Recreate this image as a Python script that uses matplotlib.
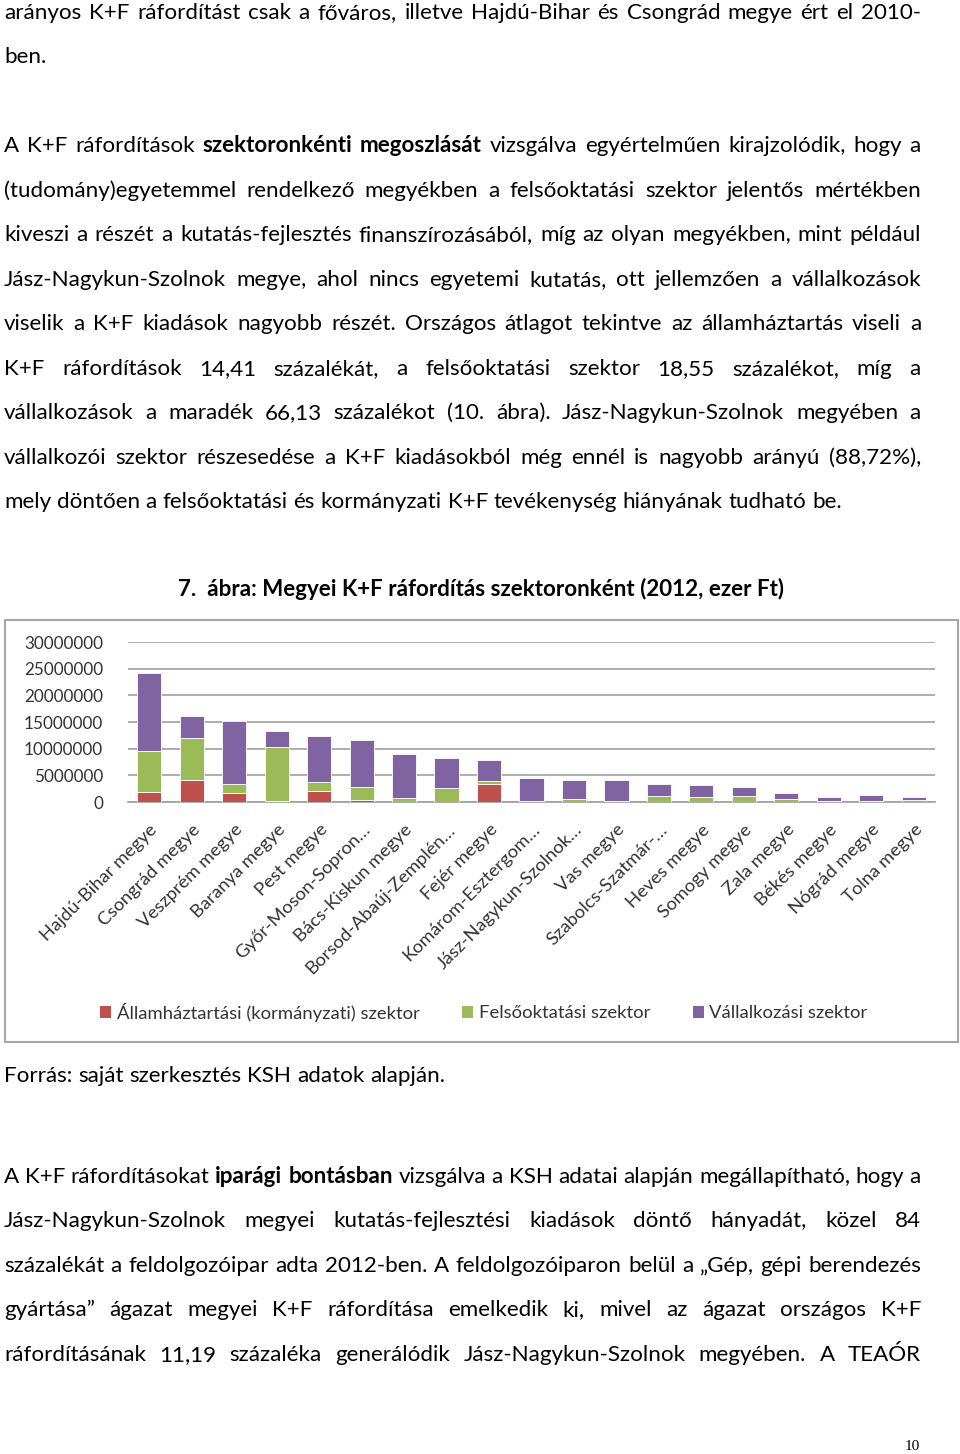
import matplotlib
matplotlib.use("Agg")
import matplotlib.pyplot as plt
from matplotlib.patches import Rectangle, Patch
import numpy as np

W, H = 960, 1454
BODY_FONT = "Lato"
X_LEFT, X_RIGHT = 4, 921

# page text, one entry per printed line: (y centre in px, text, justified)
# words wrapped in ** are bold
top_lines = [
    (11, "arányos K+F ráfordítást csak a főváros, illetve Hajdú-Bihar és Csongrád megye ért el 2010-", True),
    (55, "ben.", False),
    (144, "A K+F ráfordítások **szektoronkénti megoszlását** vizsgálva egyértelműen kirajzolódik, hogy a", True),
    (189, "(tudomány)egyetemmel rendelkező megyékben a felsőoktatási szektor jelentős mértékben", True),
    (233, "kiveszi a részét a kutatás-fejlesztés finanszírozásából, míg az olyan megyékben, mint például", True),
    (278, "Jász-Nagykun-Szolnok megye, ahol nincs egyetemi kutatás, ott jellemzően a vállalkozások", True),
    (322, "viselik a K+F kiadások nagyobb részét. Országos átlagot tekintve az államháztartás viseli a", True),
    (367, "K+F ráfordítások 14,41 százalékát, a felsőoktatási szektor 18,55 százalékot, míg a", True),
    (411, "vállalkozások a maradék 66,13 százalékot (10. ábra). Jász-Nagykun-Szolnok megyében a", True),
    (456, "vállalkozói szektor részesedése a K+F kiadásokból még ennél is nagyobb arányú (88,72%),", True),
    (500, "mely döntően a felsőoktatási és kormányzati K+F tevékenység hiányának tudható be.", False),
]
bottom_lines = [
    (1074, "Forrás: saját szerkesztés KSH adatok alapján.", False),
    (1175, "A K+F ráfordításokat **iparági bontásban** vizsgálva a KSH adatai alapján megállapítható, hogy a", True),
    (1219, "Jász-Nagykun-Szolnok megyei kutatás-fejlesztési kiadások döntő hányadát, közel 84", True),
    (1264, "százalékát a feldolgozóipar adta 2012-ben. A feldolgozóiparon belül a „Gép, gépi berendezés", True),
    (1308, "gyártása” ágazat megyei K+F ráfordítása emelkedik ki, mivel az ágazat országos K+F", True),
    (1353, "ráfordításának 11,19 százaléka generálódik Jász-Nagykun-Szolnok megyében. A TEAÓR", True),
]
chart_title = "7.  ábra: Megyei K+F ráfordítás szektoronként (2012, ezer Ft)"
page_number = "10"

# chart data (ezer Ft)
counties = ["Hajdú-Bihar megye", "Csongrád megye", "Veszprém megye", "Baranya megye",
            "Pest megye", "Győr-Moson-Sopron…", "Bács-Kiskun megye", "Borsod-Abaúj-Zemplén…",
            "Fejér megye", "Komárom-Esztergom…", "Jász-Nagykun-Szolnok…", "Vas megye",
            "Szabolcs-Szatmár-…", "Heves megye", "Somogy megye", "Zala megye",
            "Békés megye", "Nógrád megye", "Tolna megye"]
gov = [1870000, 4050000, 1750000, 100000, 2000000, 400000, 50000, 50000, 3400000, 20000,
       20000, 20000, 50000, 30000, 20000, 20000, 10000, 10000, 10000]
higher_ed = [7600000, 8000000, 1650000, 10200000, 1700000, 2500000, 650000, 2500000, 450000, 250000,
             500000, 250000, 1100000, 850000, 1050000, 550000, 100000, 100000, 300000]
business = [14770000, 4150000, 11700000, 3000000, 8700000, 8800000, 8300000, 5650000, 4000000, 4150000,
            3550000, 3800000, 2250000, 2300000, 1750000, 1150000, 900000, 1250000, 650000]
legend_labels = ["Államháztartási (kormányzati) szektor", "Felsőoktatási szektor", "Vállalkozási szektor"]
colors = ["#C0504D", "#9BBB59", "#8064A2"]

fig = plt.figure(figsize=(W / 100, H / 100), dpi=100)
renderer = fig.canvas.get_renderer()


def fx(px):
    return px / W


def fy(py):
    return 1 - py / H


def parse_words(line):
    words = []
    bold = False
    for tok in line.split():
        if tok.startswith("**"):
            bold = True
            tok = tok[2:]
        end_bold = tok.endswith("**")
        if end_bold:
            tok = tok[:-2]
        words.append((tok, bold))
        if end_bold:
            bold = False
    return words


def text_width(s, size, bold):
    t = fig.text(0, 0, s, fontsize=size, family=BODY_FONT,
                 fontweight="bold" if bold else "normal")
    w = t.get_window_extent(renderer).width
    t.remove()
    return w


# fit body size to the unjustified last line of the first paragraph (837 px wide)
ref_w = text_width(top_lines[-1][1], 10, False)
body_size = 10 * 837 / ref_w


def draw_line(y, line, justify):
    words = parse_words(line)
    widths = [text_width(w, body_size, b) for w, b in words]
    if justify and len(words) > 1:
        gap = (X_RIGHT - X_LEFT - sum(widths)) / (len(words) - 1)
    else:
        gap = text_width("a a", body_size, False) - 2 * text_width("a", body_size, False)
    x = X_LEFT
    for (w, b), wd in zip(words, widths):
        fig.text(fx(x), fy(y + 8), w, fontsize=body_size, family=BODY_FONT,
                 fontweight="bold" if b else "normal", va="baseline", ha="left", color="black")
        x += wd + gap


for y, line, just in top_lines + bottom_lines:
    draw_line(y, line, just)

fig.text(fx(481), fy(588 + 8), chart_title, fontsize=body_size, family=BODY_FONT,
         fontweight="bold", ha="center", va="baseline")
fig.text(fx(912), fy(1447), page_number, fontsize=11, family="Liberation Serif",
         ha="center", va="center")

# chart frame
fig.patches.append(Rectangle((fx(5), fy(1042)), fx(953), (1042 - 620) / H,
                             transform=fig.transFigure, fill=False,
                             edgecolor="#A6A6A6", linewidth=1.5))

ax = fig.add_axes([fx(128), fy(802), fx(807), (802 - 642) / H])
x = np.arange(len(counties))
bw = 0.57
gov = np.array(gov)
higher_ed = np.array(higher_ed)
business = np.array(business)
ax.bar(x, gov, bw, color=colors[0], edgecolor="white", linewidth=0.6, zorder=3)
ax.bar(x, higher_ed, bw, bottom=gov, color=colors[1], edgecolor="white", linewidth=0.6, zorder=3)
ax.bar(x, business, bw, bottom=gov + higher_ed, color=colors[2], edgecolor="white", linewidth=0.6, zorder=3)

ax.set_xlim(-0.5, len(counties) - 0.5)
ax.set_ylim(0, 30000000)
ax.set_yticks(np.arange(0, 30000001, 5000000))
ax.set_yticklabels([str(v) for v in range(0, 30000001, 5000000)], fontsize=12.3,
                   family=BODY_FONT, color="#333333")
ax.grid(axis="y", color="#A0A0A0", linewidth=1.2, zorder=0)
for s in ["top", "right", "left"]:
    ax.spines[s].set_visible(False)
ax.spines["bottom"].set_color("#A0A0A0")
ax.spines["bottom"].set_linewidth(1.2)
ax.tick_params(axis="y", length=0, pad=18)
ax.tick_params(axis="x", length=0, pad=14)
ax.set_xticks(x)
ax.set_xticklabels(counties, rotation=45, ha="right", rotation_mode="anchor",
                   fontsize=13.3, family=BODY_FONT, color="#333333")

handles = [Patch(facecolor=c) for c in colors]
fig.legend(handles, legend_labels, loc="center", bbox_to_anchor=(fx(484), fy(1012)),
           ncol=3, frameon=False, prop={"family": BODY_FONT, "size": 13.3},
           handlelength=0.6, handleheight=0.6, handletextpad=0.3, columnspacing=2.3,
           labelcolor="#333333")

fig.savefig("out.png", dpi=100)
